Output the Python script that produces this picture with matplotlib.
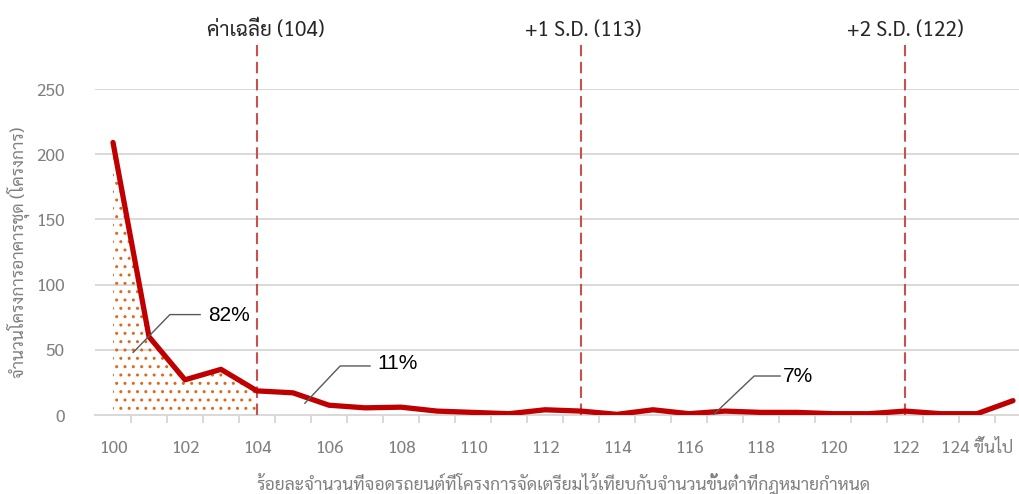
import matplotlib
matplotlib.use('Agg')
import matplotlib.pyplot as plt
import numpy as np

# data
pct = list(range(100, 126))
projects = [209, 60, 27, 35, 18.5, 17, 7.5, 5.5, 6, 3, 2, 1, 4, 3,
            0.5, 4, 1, 3, 2, 2, 1, 1, 3, 1, 1, 11]
tick_labels = ['100', '102', '104', '106', '108', '110', '112',
               '114', '116', '118', '120', '122', '124 ขึ้นไป']
ref_pos = [104, 113, 122]
ref_names = ['ค่าเฉลี่ย (104)', '+1 S.D. (113)', '+2 S.D. (122)']
shares = ['82%', '11%', '7%']

thai = ['Sarabun', 'DejaVu Sans']
grey = '#7f7f7f'

fig = plt.figure(figsize=(10.19, 4.94), dpi=100)
ax = fig.add_axes([95/1019, 79/494, 936/1019, 326/494])

x = np.arange(len(pct))
ax.plot(x, projects, color='#c00000', lw=3.8, solid_joinstyle='round',
        solid_capstyle='round', zorder=4)

# dotted area up to the mean
n = pct.index(104) + 1
ax.fill_between(x[:n], 0, projects[:n], facecolor='none', edgecolor='#dc6a1e',
                hatch='..', lw=0, zorder=2)

ax.set_xlim(-0.5, len(pct) - 0.5)
ax.set_ylim(0, 250)
ax.set_yticks([0, 50, 100, 150, 200, 250])
ax.grid(axis='y', color='#d9d9d9', lw=1.4)
ax.set_axisbelow(True)

ax.set_xticks(x[::2])
ax.set_xticklabels(tick_labels, family=thai, fontsize=12.5, color=grey)
ax.set_xticks(x[:-1] + 0.5, minor=True)
ax.tick_params(axis='x', which='major', length=0, pad=18)
ax.tick_params(axis='x', which='minor', length=6, color='#d9d9d9', width=1.4)
ax.tick_params(axis='y', length=0, pad=22, labelcolor=grey)
for lb in ax.get_yticklabels():
    lb.set_family(thai)
    lb.set_fontsize(12.5)

for s in ['top', 'right', 'left']:
    ax.spines[s].set_visible(False)
ax.spines['bottom'].set_color('#d9d9d9')
ax.spines['bottom'].set_linewidth(1.4)

# reference lines with their captions
caption_shift = [0.25, 0.05, 0]
for p, name, dx in zip(ref_pos, ref_names, caption_shift):
    xi = pct.index(p)
    ax.plot([xi, xi], [0, 284], color='#c8504f', lw=1.5, ls=(0, (5.5, 2.7)),
            clip_on=False, zorder=3)
    ax.text(xi + dx, 295, name, ha='center', va='center', family=thai,
            fontsize=15, color='#262626')

# share labels with leader lines
leaders = [[(0.56, 48), (1.58, 77), (2.42, 77)],
           [(5.33, 9), (6.31, 37.6), (7.14, 37.6)],
           [(16.67, 0), (17.81, 29.9), (18.53, 29.9)]]
label_xy = [(2.64, 76.5), (7.33, 39.5), (18.61, 29.5)]
for s, pts, (tx, ty) in zip(shares, leaders, label_xy):
    ax.plot(*zip(*pts), color='#595959', lw=1, zorder=5)
    ax.text(tx, ty, s, ha='left', va='center', fontsize=15,
            family='Liberation Sans', color='black', zorder=6)

fig.text(563/1019, 1 - 484/494, 'ร้อยละจำนวนที่จอดรถยนต์ที่โครงการจัดเตรียมไว้เทียบกับจำนวนขั้นต่ำที่กฎหมายกำหนด',
         ha='center', va='center', family=thai, fontsize=12.6, color=grey)
fig.text(18/1019, 1 - 252/494, 'จำนวนโครงการอาคารชุด (โครงการ)', rotation=90,
         ha='center', va='center', family=thai, fontsize=12.5, color=grey)

fig.savefig('out.png')
